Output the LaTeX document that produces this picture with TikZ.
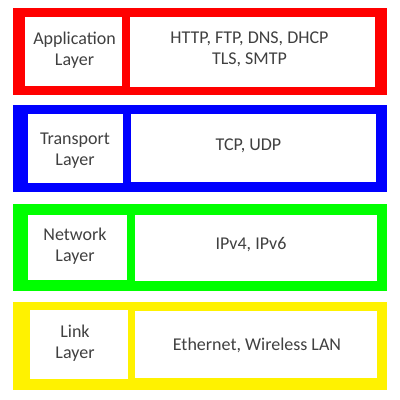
\documentclass[tikz,border=0pt]{standalone}
\usepackage{fontspec}
\setmainfont{Carlito}
\usepackage{tikz}
\usetikzlibrary{positioning}

\definecolor{txtgray}{HTML}{404040}

\begin{document}
\begin{tikzpicture}[x=1pt, y=-1pt,
		band/.style={fill=#1, inner sep=0, minimum width=374pt, minimum height=87pt},
		cell/.style={fill=white, inner sep=0},
		lbl/.style={text=txtgray, font=\fontsize{18}{21}\selectfont, align=center, inner sep=0}]
				\useasboundingbox (0,0) rectangle (400,400);
				% colour bands
				\node[band=red] (app) at (200, 51.5) {};
				\node[band=blue] (trn) at (200, 148.5) {};
				\node[band=green] (net) at (200, 247.5) {};
				\node[band=yellow, minimum height=88pt] (lnk) at (200, 346) {};
				% white cells
				\node[cell, minimum width=97pt, minimum height=69pt] (appL) at (73.5, 51.5) {};
				\node[cell, minimum width=245pt, minimum height=70pt] (appR) at (252.5, 52) {};
				\node[cell, minimum width=95pt, minimum height=69pt] (trnL) at (75.5, 148.5) {};
				\node[cell, minimum width=245pt, minimum height=68pt] (trnR) at (253.5, 148) {};
				\node[cell, minimum width=99pt, minimum height=65pt] (netL) at (77.5, 247.5) {};
				\node[cell, minimum width=242pt, minimum height=66pt] (netR) at (256, 248) {};
				\node[cell, minimum width=98pt, minimum height=69pt] (lnkL) at (79, 344.5) {};
				\node[cell, minimum width=242pt, minimum height=67pt] (lnkR) at (256, 344.5) {};
				% texts
				\node[lbl] (appLt) at (74.5, 50.4) {Application\\Layer};
				\node[lbl] (appRt) at (249.5, 49.8) {HTTP, FTP, DNS, DHCP\\TLS, SMTP};
				\node[lbl] (trnLt) at (75, 150.4) {Transport\\Layer};
				\node[lbl, anchor=base] (trnRt) at (248.5, 150) {TCP, UDP};
				\node[lbl] (netLt) at (75, 246) {Network\\Layer};
				\node[lbl, anchor=base] (netRt) at (251, 249.3) {IPv4, IPv6};
				\node[lbl] (lnkLt) at (75, 343.4) {Link\\Layer};
				\node[lbl, anchor=base] (lnkRt) at (257, 350.7) {Ethernet, Wireless LAN};
			\end{tikzpicture}
\end{document}
